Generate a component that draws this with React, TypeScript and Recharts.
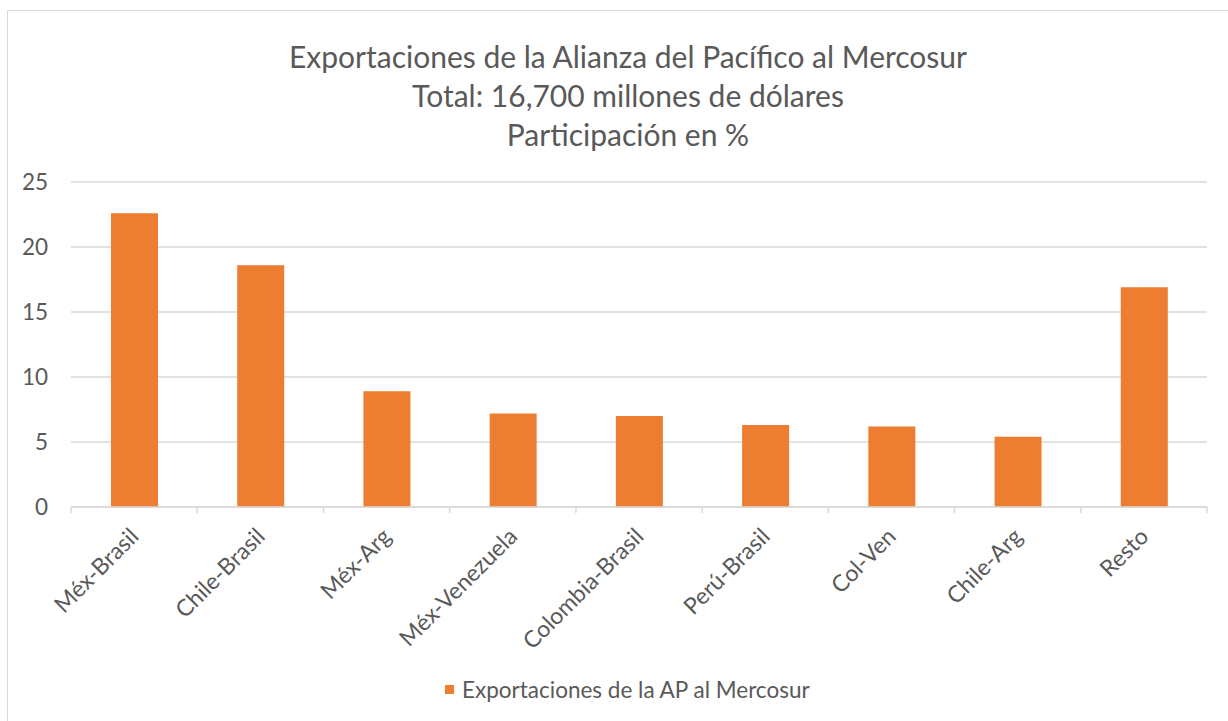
import React from 'react';
import { BarChart, Bar, XAxis, YAxis, CartesianGrid, Legend } from 'recharts';

const categories = ['Méx-Brasil', 'Chile-Brasil', 'Méx-Arg', 'Méx-Venezuela', 'Colombia-Brasil', 'Perú-Brasil', 'Col-Ven', 'Chile-Arg', 'Resto'];
const shares = [22.6, 18.6, 8.9, 7.2, 7.0, 6.3, 6.2, 5.4, 16.9];
const yTicks = [0, 5, 10, 15, 20, 25];
const seriesName = 'Exportaciones de la AP al Mercosur';
const titleLines = ['Exportaciones de la Alianza del Pacífico al Mercosur', 'Total: 16,700 millones de dólares', 'Participación en %'];

const data = categories.map((c, i) => ({ category: c, value: shares[i] }));

const W = 1228;
const H = 721;
const MARGIN = { top: 182, right: 21, left: 0, bottom: 0 };
const Y_AXIS_W = 71;
const X_AXIS_H = 214;
const PLOT_W = W - MARGIN.left - MARGIN.right - Y_AXIS_W;
const BAND = PLOT_W / categories.length;
const FONT = 'Lato, "Open Sans", sans-serif';
const TEXT = '#595959';
const GRID = '#d9d9d9';
const BAR = '#ED7D31';
const LABEL_SIZE = 22.5;

const XTick = (props: any) => {
  const { x, y, payload, index } = props;
  const half = BAND / 2;
  const ax = x + 6;
  const ay = y + 31;
  return (
    <g>
      <line x1={x - half} x2={x - half} y1={y} y2={y + 6} stroke={GRID} strokeWidth={1.5} />
      {index === categories.length - 1 && (
        <line x1={x + half} x2={x + half} y1={y} y2={y + 6} stroke={GRID} strokeWidth={1.5} />
      )}
      <text
        x={ax}
        y={ay}
        textAnchor="end"
        transform={`rotate(-45, ${ax}, ${ay})`}
        fill={TEXT}
        fontSize={23}
        fontFamily={FONT}
      >
        {payload.value}
      </text>
    </g>
  );
};

const YTick = (props: any) => {
  const { x, y, payload } = props;
  return (
    <text x={x} y={y} dy="0.35em" textAnchor="end" fill={TEXT} fontSize={LABEL_SIZE} fontFamily={FONT}>
      {payload.value}
    </text>
  );
};

const LegendContent = () => (
  <div style={{ display: 'flex', alignItems: 'center', marginLeft: 445, fontFamily: FONT, fontSize: LABEL_SIZE, color: TEXT }}>
    <span style={{ display: 'inline-block', width: 9, height: 9, background: BAR, marginRight: 8 }} />
    <span>{seriesName}</span>
  </div>
);

export default function App() {
  return (
    <div style={{ position: 'absolute', left: 0, top: 0, width: W, height: H, background: '#fff', overflow: 'hidden' }}>
      <div style={{ position: 'absolute', left: 7, top: 10, width: W + 20, height: H + 20, border: `1.5px solid ${GRID}`, boxSizing: 'border-box' }} />
      <div
        style={{
          position: 'absolute',
          left: 0,
          top: 37,
          width: 1256,
          textAlign: 'center',
          fontFamily: FONT,
          fontSize: 30,
          lineHeight: '39px',
          color: TEXT,
        }}
      >
        {titleLines.map((t) => (
          <div key={t}>{t}</div>
        ))}
      </div>
      <BarChart width={W} height={H} data={data} margin={MARGIN} barSize={47}>
        <CartesianGrid vertical={false} stroke={GRID} strokeWidth={1.5} />
        <XAxis
          dataKey="category"
          height={X_AXIS_H}
          interval={0}
          stroke={GRID}
          strokeWidth={1.5}
          tickLine={false}
          tickSize={0}
          tickMargin={0}
          tick={<XTick />}
        />
        <YAxis
          width={Y_AXIS_W}
          domain={[0, 25]}
          ticks={yTicks}
          axisLine={false}
          tickLine={false}
          tickSize={0}
          tickMargin={23}
          tick={<YTick />}
        />
        <Legend
          verticalAlign="middle"
          align="center"
          layout="horizontal"
          content={<LegendContent />}
          wrapperStyle={{ top: 676, left: 0, width: W }}
        />
        <Bar dataKey="value" name={seriesName} fill={BAR} isAnimationActive={false} />
      </BarChart>
    </div>
  );
}
